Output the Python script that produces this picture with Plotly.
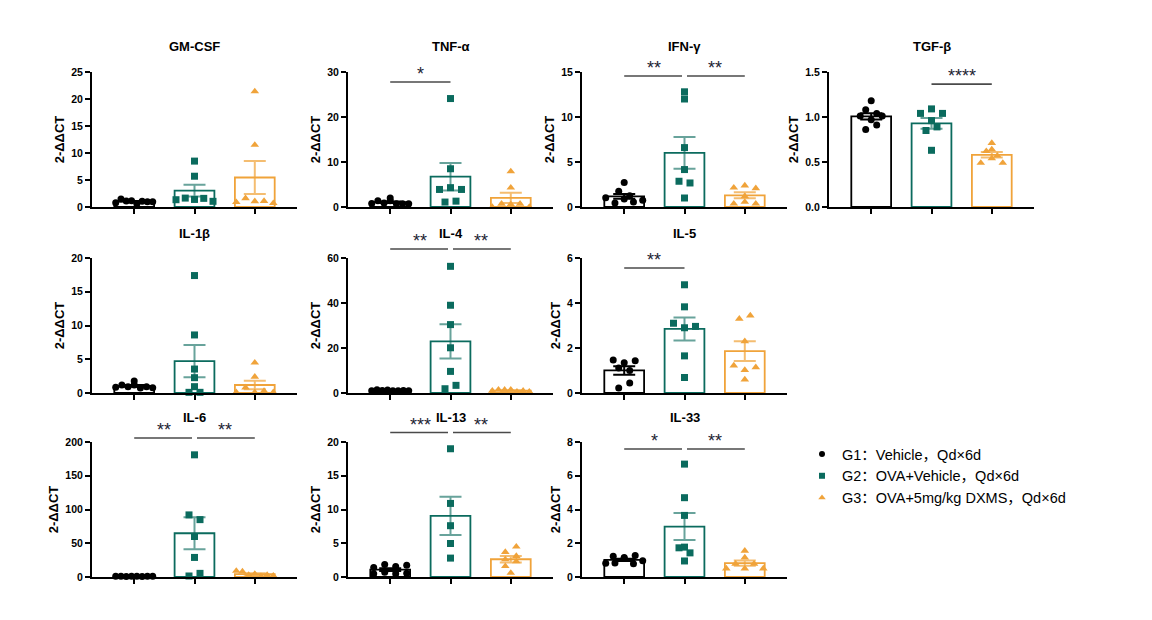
import numpy as np
import plotly.graph_objects as go

W, H = 1152, 620

# ---------------- data ----------------
GROUP_LABELS = ["G1：Vehicle，Qd×6d", "G2：OVA+Vehicle，Qd×6d", "G3：OVA+5mg/kg DXMS，Qd×6d"]
PANEL_TITLES = ["GM-CSF", "TNF-α", "IFN-γ", "TGF-β", "IL-1β", "IL-4", "IL-5", "IL-6", "IL-13", "IL-33"]
Y_AXIS_TITLE = "2-ΔΔCT"

gmcsf_g1 = [0.8, 1.5, 1.1, 1.15, 0.6, 1.05, 0.95, 0.95]
gmcsf_g2 = [1.35, 1.65, 5.7, 8.5, 1.4, 1.6, 1.05]
gmcsf_g3 = [0.9, 1.6, 21.4, 11.5, 1.05, 1.1, 0.7]

tnfa_g1 = [0.8, 1.4, 0.9, 1.4, 2.0, 0.75, 0.7, 0.7]
tnfa_g2 = [3.9, 24.1, 8.5, 4.3, 1.1, 1.3, 3.9]
tnfa_g3 = [0.0, 0.7, 7.9, 4.3, 0.6, 0.7, 0.0]

ifng_g1 = [1.04, 0.45, 1.75, 2.71, 0.89, 1.26, 0.56, 0.74]
ifng_g2 = [2.86, 4.16, 12.8, 12.0, 6.6, 1.0, 2.67]
ifng_g3 = [2.15, 0.37, 2.38, 0.56, 2.08, 0.37, 1.19]

tgfb_g1 = [1.08, 1.01, 0.97, 0.86, 1.18, 1.01, 0.91, 1.04]
tgfb_g2 = [1.04, 1.09, 0.96, 0.85, 0.63, 1.04, 0.89]
tgfb_g3 = [0.49, 0.62, 0.71, 0.54, 0.64, 0.49, 0.57]

il1b_g1 = [0.84, 1.19, 0.94, 1.19, 1.78, 0.74, 0.94, 0.79]
il1b_g2 = [0.1, 17.4, 8.6, 3.55, 2.27, 0.94, 0.1]
il1b_g3 = [0.1, 0.8, 4.5, 2.4, 0.1, 0.3, 0.1]

il4_g1 = [1.0, 1.4, 1.1, 1.3, 1.0, 1.0, 1.1, 1.0]
il4_g2 = [1.9, 56.3, 39.0, 30.4, 20.1, 9.6, 3.4]
il4_g3 = [1.0, 1.5, 1.4, 1.5, 0.6, 1.0, 0.6]

il5_g1 = [1.47, 1.11, 0.22, 1.35, 0.44, 1.43, 1.0]
il5_g2 = [3.1, 4.81, 3.83, 2.9, 2.96, 1.65, 0.69]
il5_g3 = [1.22, 3.3, 2.3, 1.02, 0.6, 3.44, 1.14]

il6_g1 = [1.0, 1.1, 0.9, 1.0, 1.2, 0.8, 1.0, 1.0]
il6_g2 = [1.5, 181.0, 92.0, 85.0, 60.0, 29.0, 5.4]
il6_g3 = [9.0, 8.0, 3.0, 4.5, 1.0, 3.0, 2.0]

il13_g1 = [1.39, 0.5, 1.84, 0.7, 1.54, 0.5, 1.74, 0.55]
il13_g2 = [19.0, 10.9, 7.6, 4.96, 2.8]
il13_g3 = [3.7, 2.6, 4.5, 3.1, 1.6, 0.6, 2.3]

il33_g1 = [1.23, 0.81, 1.15, 1.27, 0.83, 1.09, 0.79, 0.97]
il33_g2 = [1.73, 6.69, 4.7, 3.65, 1.43, 0.95, 1.77]
il33_g3 = [0.5, 0.78, 1.55, 1.15, 0.5, 0.78, 0.5]

Y_MAX = [25, 30, 15, 1.5, 20, 60, 6, 200, 20, 8]
Y_DTICK = [5, 10, 5, 0.5, 5, 20, 2, 50, 5, 2]

COMPARISONS = [
    ("TNF-α", 0, 1, "*"),
    ("IFN-γ", 0, 1, "**"), ("IFN-γ", 1, 2, "**"),
    ("TGF-β", 1, 2, "****"),
    ("IL-4", 0, 1, "**"), ("IL-4", 1, 2, "**"),
    ("IL-5", 0, 1, "**"),
    ("IL-6", 0, 1, "**"), ("IL-6", 1, 2, "**"),
    ("IL-13", 0, 1, "***"), ("IL-13", 1, 2, "**"),
    ("IL-33", 0, 1, "*"), ("IL-33", 1, 2, "**"),
]

PANEL_DATA = [
    [gmcsf_g1, gmcsf_g2, gmcsf_g3],
    [tnfa_g1, tnfa_g2, tnfa_g3],
    [ifng_g1, ifng_g2, ifng_g3],
    [tgfb_g1, tgfb_g2, tgfb_g3],
    [il1b_g1, il1b_g2, il1b_g3],
    [il4_g1, il4_g2, il4_g3],
    [il5_g1, il5_g2, il5_g3],
    [il6_g1, il6_g2, il6_g3],
    [il13_g1, il13_g2, il13_g3],
    [il33_g1, il33_g2, il33_g3],
]

# ---------------- styles / layout geometry ----------------
COLORS = ["#000000", "#0B6B5E", "#F0A33A"]
ERR_COLORS = ["#000000", "rgba(11,107,94,0.62)", "rgba(240,163,58,0.72)"]
SYMBOLS = ["circle", "square", "triangle-up"]
MSIZE = [7, 7, 7.5]
FONT = "Liberation Sans, Arial, Noto Sans CJK SC, sans-serif"

COL_LEFT = [92, 348, 582, 829]
ROW_TOP = [72, 258, 442]
PW, PH = 205, 135
X_RANGE = (-0.7, 2.7)
BAR_W = 0.66
CELLS = [(0, 0), (0, 1), (0, 2), (0, 3), (1, 0), (1, 1), (1, 2), (2, 0), (2, 1), (2, 2)]
# significance bar height (fraction of the y domain) per panel
SIG_Y = {"TNF-α": 0.926, "IFN-γ": 0.97, "TGF-β": 0.91, "IL-4": 1.067, "IL-5": 0.926,
         "IL-6": 1.03, "IL-13": 1.07, "IL-33": 0.948}

CAT_PX = PW / (X_RANGE[1] - X_RANGE[0])
ROW_TOL, MAX_SP, SPREAD = 5.5, 11.0, 37.0


def swarm_offsets(values, px_per_unit):
    v = np.asarray(values, float)
    order = np.argsort(v, kind="stable")
    rows, cur = [], [order[0]]
    for i in order[1:]:
        if (v[i] - v[cur[0]]) * px_per_unit < ROW_TOL:
            cur.append(i)
        else:
            rows.append(cur)
            cur = [i]
    rows.append(cur)
    off = np.zeros(len(v))
    for r in rows:
        r = sorted(r)
        n = len(r)
        if n == 1:
            continue
        sp = min(MAX_SP, SPREAD / (n - 1))
        for k, i in enumerate(r):
            off[i] = (k - (n - 1) / 2) * sp
    return off / CAT_PX


fig = go.Figure()
layout = dict(
    template="none",
    width=W, height=H, margin=dict(l=0, r=0, t=0, b=0, pad=0, autoexpand=False),
    paper_bgcolor="white", plot_bgcolor="white", barmode="overlay",
    font=dict(family=FONT, color="black"),
    showlegend=True, hovermode=False,
)
annotations, shapes = [], []

for p, (title, groups) in enumerate(zip(PANEL_TITLES, PANEL_DATA)):
    n = p + 1
    xa, ya = f"x{n}" if n > 1 else "x", f"y{n}" if n > 1 else "y"
    xkey, ykey = f"xaxis{n}" if n > 1 else "xaxis", f"yaxis{n}" if n > 1 else "yaxis"
    r, c = CELLS[p]
    left, top = COL_LEFT[c], ROW_TOP[r]
    ppu = PH / Y_MAX[p]

    for g, vals in enumerate(groups):
        arr = np.asarray(vals, float)
        mean = arr.mean()
        sem = arr.std(ddof=1) / np.sqrt(len(arr))
        fig.add_trace(go.Bar(
            x=[g], y=[mean], width=BAR_W, xaxis=xa, yaxis=ya, showlegend=False,
            marker=dict(color="white", line=dict(color=COLORS[g], width=1.8)),
            error_y=dict(type="data", array=[sem], color=ERR_COLORS[g], thickness=2, width=11),
            hoverinfo="skip",
        ))
    for g, vals in enumerate(groups):
        off = swarm_offsets(vals, ppu)
        fig.add_trace(go.Scatter(
            x=g + off, y=vals, mode="markers", xaxis=xa, yaxis=ya, showlegend=False,
            cliponaxis=False,
            marker=dict(symbol=SYMBOLS[g], size=MSIZE[g], color=COLORS[g], line=dict(width=0)),
        ))

    layout[xkey] = dict(
        domain=[left / W, (left + PW) / W], range=list(X_RANGE), anchor=ya, automargin=False,
        showline=True, linecolor="black", linewidth=2, ticks="outside", tickvals=[0, 1, 2],
        ticklen=5, tickwidth=2, tickcolor="black", showticklabels=False,
        showgrid=False, zeroline=False, fixedrange=True,
    )
    layout[ykey] = dict(
        domain=[1 - (top + PH) / H, 1 - top / H], range=[0, Y_MAX[p]], anchor=xa, automargin=False,
        showline=True, linecolor="black", linewidth=2, ticks="outside", ticklen=5,
        tickwidth=2, tickcolor="black", tick0=0, dtick=Y_DTICK[p],
        tickformat=".1f" if Y_DTICK[p] < 1 else "d",
        tickfont=dict(size=10.5, weight=700, family=FONT),
        showgrid=False, zeroline=False, fixedrange=True,
        title=dict(text=Y_AXIS_TITLE, font=dict(size=13, weight=700, family=FONT), standoff=4),
    )
    annotations.append(dict(
        text=title, x=1, xref=xa, y=1 + 25 / PH, yref=f"{ya} domain",
        showarrow=False, xanchor="center", yanchor="middle",
        font=dict(size=13, weight=700, family=FONT),
    ))

# significance brackets
gap = 2.5 / CAT_PX
for title in PANEL_TITLES:
    comps = [cmp for cmp in COMPARISONS if cmp[0] == title]
    if not comps:
        continue
    p = PANEL_TITLES.index(title)
    n = p + 1
    xa, ya = f"x{n}" if n > 1 else "x", f"y{n}" if n > 1 else "y"
    yl = SIG_Y[title]
    for _, a, b, lab in comps:
        x0, x1 = a, b
        if len(comps) > 1:
            if a == 1:
                x0 += gap
            if b == 1:
                x1 -= gap
        shapes.append(dict(type="line", xref=xa, yref=f"{ya} domain", x0=x0, x1=x1, y0=yl, y1=yl,
                           line=dict(color="#4a4a4a", width=1.6)))
        annotations.append(dict(
            text=lab, x=(a + b) / 2, xref=xa, y=yl, yref=f"{ya} domain", showarrow=False,
            xanchor="center", yanchor="bottom", yshift=-4,
            font=dict(size=18, family=FONT, color="#1c2433"),
        ))

# legend entries
for g in range(3):
    fig.add_trace(go.Scatter(
        x=[None], y=[None], mode="markers", name=GROUP_LABELS[g], showlegend=True,
        marker=dict(symbol=SYMBOLS[g], size=MSIZE[g] - 1, color=COLORS[g]),
    ))

layout["legend"] = dict(
    x=802 / W, y=1 - 438 / H, xanchor="left", yanchor="top",
    font=dict(size=14.5, family=FONT, color="#000000"), itemsizing="trace",
    bgcolor="rgba(0,0,0,0)", tracegroupgap=0,
)
layout["annotations"] = annotations
layout["shapes"] = shapes
fig.update_layout(**layout)

fig.write_html("out.html")
